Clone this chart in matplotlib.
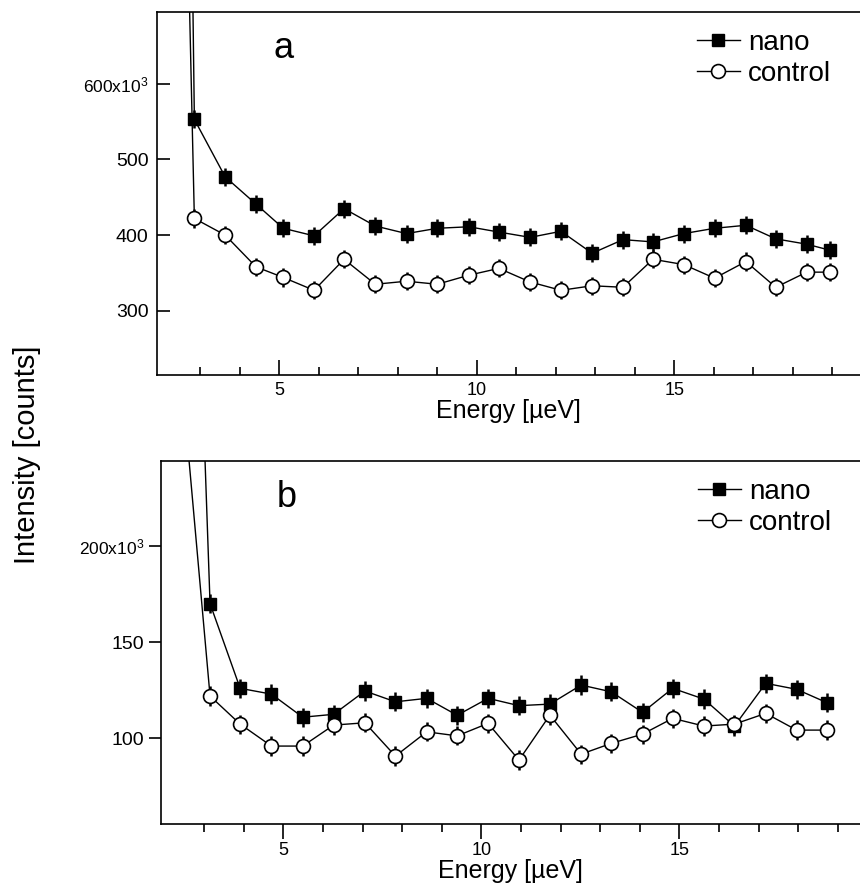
import matplotlib
matplotlib.use('Agg')
import matplotlib.pyplot as plt
from matplotlib.lines import Line2D
from matplotlib.ticker import FixedLocator

plt.rcParams['font.family'] = ['Liberation Sans', 'DejaVu Sans']
plt.rcParams['mathtext.fontset'] = 'custom'
plt.rcParams['mathtext.rm'] = 'Liberation Sans'
plt.rcParams['mathtext.it'] = 'Liberation Sans:italic'

# ------------------------------
# Data (intensity in units of 10^3 counts)
# ------------------------------
energy_a = [2.07, 2.85, 3.63, 4.41, 5.10, 5.88, 6.64, 7.43, 8.22, 9.00, 9.80, 10.56,
            11.35, 12.13, 12.92, 13.70, 14.46, 15.24, 16.02, 16.81, 17.57, 18.35, 18.94]
nano_a = [3720, 553, 477, 441, 409, 399, 435, 412, 402, 409, 411, 404,
          397, 405, 376, 394, 391, 402, 409, 413, 395, 388, 380]
control_a = [2200, 422, 400, 358, 344, 327, 368, 335, 339, 335, 347, 356,
             338, 327, 333, 331, 368, 361, 343, 365, 331, 351, 351]
err_a = 12

energy_b = [2.37, 3.15, 3.91, 4.70, 5.49, 6.27, 7.06, 7.83, 8.62, 9.39, 10.17, 10.95,
            11.73, 12.52, 13.28, 14.07, 14.83, 15.62, 16.39, 17.18, 17.96, 18.73]
nano_b = [628, 170, 126, 123, 111, 112.5, 124.6, 119, 120.8, 112, 120.8, 117,
          117.8, 127.7, 124.2, 113.5, 126, 120.4, 106.4, 128.6, 125.5, 118.5]
control_b = [302, 122, 107.4, 96, 96, 106.9, 108.1, 90.8, 103.4, 101.3, 107.8, 88.7,
             112.1, 91.8, 97.4, 102.2, 110.4, 106.4, 107.4, 113, 104.3, 104.3]
err_b = 5

yticks_a = [300, 400, 500, 600]
yticks_b = [100, 150, 200]
xticks_major = [5, 10, 15]
xticks_minor = [3, 4, 6, 7, 8, 9, 11, 12, 13, 14, 16, 17, 18, 19]


def draw_panel(ax, energy, nano, control, err, yticks, letter, tick_dir):
    ax.errorbar(energy, nano, yerr=err, color='black', lw=1.0, elinewidth=1.8,
                capsize=0, marker='s', ms=9, mfc='black', mec='black', zorder=3)
    ax.errorbar(energy, control, yerr=err, color='black', lw=1.0, elinewidth=1.8,
                capsize=0, marker='o', ms=10, mfc='white', mec='black', mew=1.2,
                zorder=3)

    ax.spines['right'].set_visible(False)
    for s in ['left', 'top', 'bottom']:
        ax.spines[s].set_linewidth(1.2)

    ax.xaxis.set_major_locator(FixedLocator(xticks_major))
    ax.xaxis.set_minor_locator(FixedLocator(xticks_minor))
    labels = ['%d' % v for v in yticks]
    labels[-1] = '%dx10$^{3}$' % yticks[-1]
    ax.set_yticks(yticks, labels=labels)
    ax.tick_params(axis='x', which='major', direction=tick_dir, length=11, width=1.2,
                   labelsize=13, pad=5 if tick_dir == 'in' else 2)
    ax.tick_params(axis='x', which='minor', direction=tick_dir, length=6, width=1.2)
    ax.tick_params(axis='y', which='major', direction=tick_dir, length=9, width=1.2,
                   labelsize=14, pad=6 if tick_dir == 'in' else 3)
    ax.tick_params(top=False, right=False)
    ax.get_yticklabels()[-1].set_fontsize(12.5)

    ax.set_xlabel('Energy [\u00b5eV]', fontsize=18, labelpad=0)
    ax.text(0.18, 0.9, letter, transform=ax.transAxes, fontsize=26,
            ha='center', va='center')
    handles = [
        Line2D([], [], color='black', lw=1.0, marker='s', ms=9, mfc='black'),
        Line2D([], [], color='black', lw=1.0, marker='o', ms=10, mfc='white', mew=1.2),
    ]
    ax.legend(handles, ['nano', 'control'], loc='upper left',
              bbox_to_anchor=(0.768, 0.95), frameon=False,
              fontsize=20, handlelength=1.55, handletextpad=0.3,
              labelspacing=0.18, borderpad=0, borderaxespad=0)


fig = plt.figure(figsize=(8.6, 8.84), dpi=100)
ax_a = fig.add_axes([157 / 860, 1 - 375 / 884, 703 / 860, 363 / 884])
ax_b = fig.add_axes([160.7 / 860, 1 - 824 / 884, 699.3 / 860, 363.3 / 884])

draw_panel(ax_a, energy_a, nano_a, control_a, err_a, yticks_a, 'a', 'in')
ax_a.set_xlim(1.904, 19.70)
ax_a.set_ylim(215, 695)

draw_panel(ax_b, energy_b, nano_b, control_b, err_b, yticks_b, 'b', 'out')
ax_b.set_xlim(1.904, 19.56)
ax_b.set_ylim(55.5, 244.3)

fig.text(27 / 860, 1 - 455 / 884, 'Intensity [counts]', rotation=90,
         fontsize=21, ha='center', va='center')

fig.savefig('out.png', dpi=100)
